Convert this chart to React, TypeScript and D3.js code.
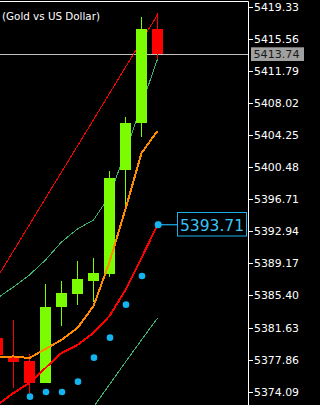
import React from "react";
import * as d3 from "d3";

const W = 320;
const H = 405;

// candle index 0..10
const candleIdx = [0, 1, 2, 3, 4, 5, 6, 7, 8, 9, 10];
const opens = [5380.44, 5378.29, 5377.70, 5375.15, 5384.08, 5385.61, 5387.14, 5387.92, 5400.14, 5405.63, 5416.71];
const highs = [5381.5, 5382.52, 5378.52, 5386.75, 5387.10, 5389.45, 5389.80, 5400.03, 5406.37, 5418.08, 5418.55];
const lows = [5377.5, 5374.56, 5373.94, 5375.15, 5381.81, 5384.28, 5384.63, 5387.57, 5396.03, 5404.02, 5413.15];
const closes = [5378.41, 5377.62, 5375.08, 5384.05, 5385.69, 5387.34, 5388.04, 5399.24, 5405.63, 5416.71, 5413.74];

const upperBand = [5387.56, 5390.64, 5393.73, 5396.81, 5399.90, 5402.97, 5406.05, 5409.14, 5412.22, 5415.31, 5418.39];
const middleBand = [5385.10, 5386.40, 5387.81, 5389.57, 5391.68, 5393.21, 5394.27, 5397.09, 5402.26, 5407.78, 5413.18];
const lowerBandIdx = [5, 6, 7, 8, 9, 10];
const lowerBand = [5369.83, 5372.30, 5374.93, 5377.58, 5380.17, 5382.75];
const orangeMA = [5378.17, 5378.23, 5378.05, 5379.11, 5380.17, 5381.58, 5384.16, 5389.33, 5395.56, 5402.14, 5404.73];
const redMA = [5372.53, 5373.94, 5375.12, 5376.88, 5378.64, 5379.58, 5380.99, 5382.99, 5386.04, 5389.80, 5393.71];
const sarIdx = [2, 3, 4, 5, 6, 7, 8, 9, 10];
const sarVals = [5373.51, 5374.06, 5374.06, 5375.27, 5378.09, 5380.44, 5384.32, 5387.69, 5393.71];

const tickVals = [5419.33, 5415.56, 5411.79, 5408.02, 5404.25, 5400.48, 5396.71, 5392.94, 5389.17, 5385.40, 5381.63, 5377.86, 5374.09];
const lastPrice = 5413.74;
const markerPrice = 5393.71;
const title = "(Gold vs US Dollar)";

export default function App() {
  const x = d3.scaleLinear().domain([0, 10]).range([-2.5, 157.5]);
  const y = d3.scaleLinear().domain([5374.09, 5419.33]).range([391.7, 6.7]);
  const axisX = 248;

  const line = d3
    .line<number>()
    .x((_, i) => x(candleIdx[i]))
    .y((d) => y(d));
  const lowerLine = d3
    .line<number>()
    .x((_, i) => x(lowerBandIdx[i]))
    .y((d) => y(d));

  const fmt = d3.format(".2f");
  const font = "DejaVu Sans, sans-serif";

  return (
    <div style={{ position: "absolute", left: 0, top: 0, width: W, height: H }}>
      <svg width={W} height={H} style={{ display: "block", background: "#000" }}>
        <rect x={0} y={0} width={W} height={H} fill="#000" />
        <defs>
          <clipPath id="plot">
            <rect x={0} y={2} width={axisX} height={H - 2} />
          </clipPath>
        </defs>
        <text x={2} y={19.5} fill="#ffffff" fontFamily={font} fontSize={11} textLength={98} lengthAdjust="spacingAndGlyphs">
          {title}
        </text>
        {/* current price line */}
        <line x1={0} x2={axisX} y1={Math.round(y(lastPrice)) + 0.5} y2={Math.round(y(lastPrice)) + 0.5} stroke="#c0c0c0" strokeWidth={1} />
        <g clipPath="url(#plot)">
          <path d={line(upperBand) || ""} fill="none" stroke="#ff0000" strokeWidth={1} shapeRendering="crispEdges" />
          <path d={line(middleBand) || ""} fill="none" stroke="#3cb371" strokeWidth={1} shapeRendering="crispEdges" />
          <path d={lowerLine(lowerBand) || ""} fill="none" stroke="#3cb371" strokeWidth={1} shapeRendering="crispEdges" />
          {candleIdx.map((c, i) => {
            const cx = x(c);
            const up = closes[i] >= opens[i];
            const col = up ? "#7cfc00" : "#ff0000";
            const top = y(Math.max(opens[i], closes[i]));
            const bot = y(Math.min(opens[i], closes[i]));
            return (
              <g key={c}>
                <line x1={cx} x2={cx} y1={y(highs[i])} y2={y(lows[i])} stroke={col} strokeWidth={1} shapeRendering="crispEdges" />
                <rect x={cx - 5.5} y={top} width={11} height={Math.max(1, bot - top)} fill={col} shapeRendering="crispEdges" />
              </g>
            );
          })}
          <path d={line(orangeMA) || ""} fill="none" stroke="#ff8c00" strokeWidth={2} shapeRendering="crispEdges" />
          <path d={line(redMA) || ""} fill="none" stroke="#ff0000" strokeWidth={2} shapeRendering="crispEdges" />
          {sarIdx.map((c, i) => (
            <circle key={c} cx={x(c) + 0.5} cy={y(sarVals[i])} r={3.3} fill="#14b4f0" />
          ))}
        </g>
        {/* marker label */}
        <line x1={x(10)} x2={177.5} y1={y(markerPrice)} y2={y(markerPrice)} stroke="#1ab0e8" strokeWidth={1.2} />
        <circle cx={x(10) + 0.8} cy={y(markerPrice)} r={3.4} fill="#14b4f0" />
        <rect x={177.5} y={212.5} width={69} height={23.5} fill="#000" stroke="#1ab0e8" strokeWidth={1} />
        <text x={180} y={y(markerPrice) + 6} fill="#3cc4f4" fontFamily={font} fontSize={16} textLength={64} lengthAdjust="spacingAndGlyphs">
          {fmt(markerPrice)}
        </text>
        {/* frame */}
        <line x1={0} x2={axisX + 0.5} y1={1.5} y2={1.5} stroke="#ffffff" strokeWidth={1} />
        <line x1={axisX + 0.5} x2={axisX + 0.5} y1={1.5} y2={H} stroke="#ffffff" strokeWidth={1} />
        {tickVals.map((t) => {
          const ty = Math.round(y(t)) + 0.5;
          return (
            <g key={t}>
              <line x1={axisX} x2={axisX + 5} y1={ty} y2={ty} stroke="#ffffff" strokeWidth={1} />
              <text x={254} y={ty + 3.8} fill="#ffffff" fontFamily={font} fontSize={10} textLength={45} lengthAdjust="spacingAndGlyphs">
                {fmt(t)}
              </text>
            </g>
          );
        })}
        {/* last price label */}
        <rect x={251} y={47.3} width={53} height={13.7} fill="#a0a0a0" />
        <text x={253.5} y={y(lastPrice) + 3.8} fill="#1a1a1a" fontFamily={font} fontSize={10} textLength={46} lengthAdjust="spacingAndGlyphs">
          {fmt(lastPrice)}
        </text>
      </svg>
    </div>
  );
}
